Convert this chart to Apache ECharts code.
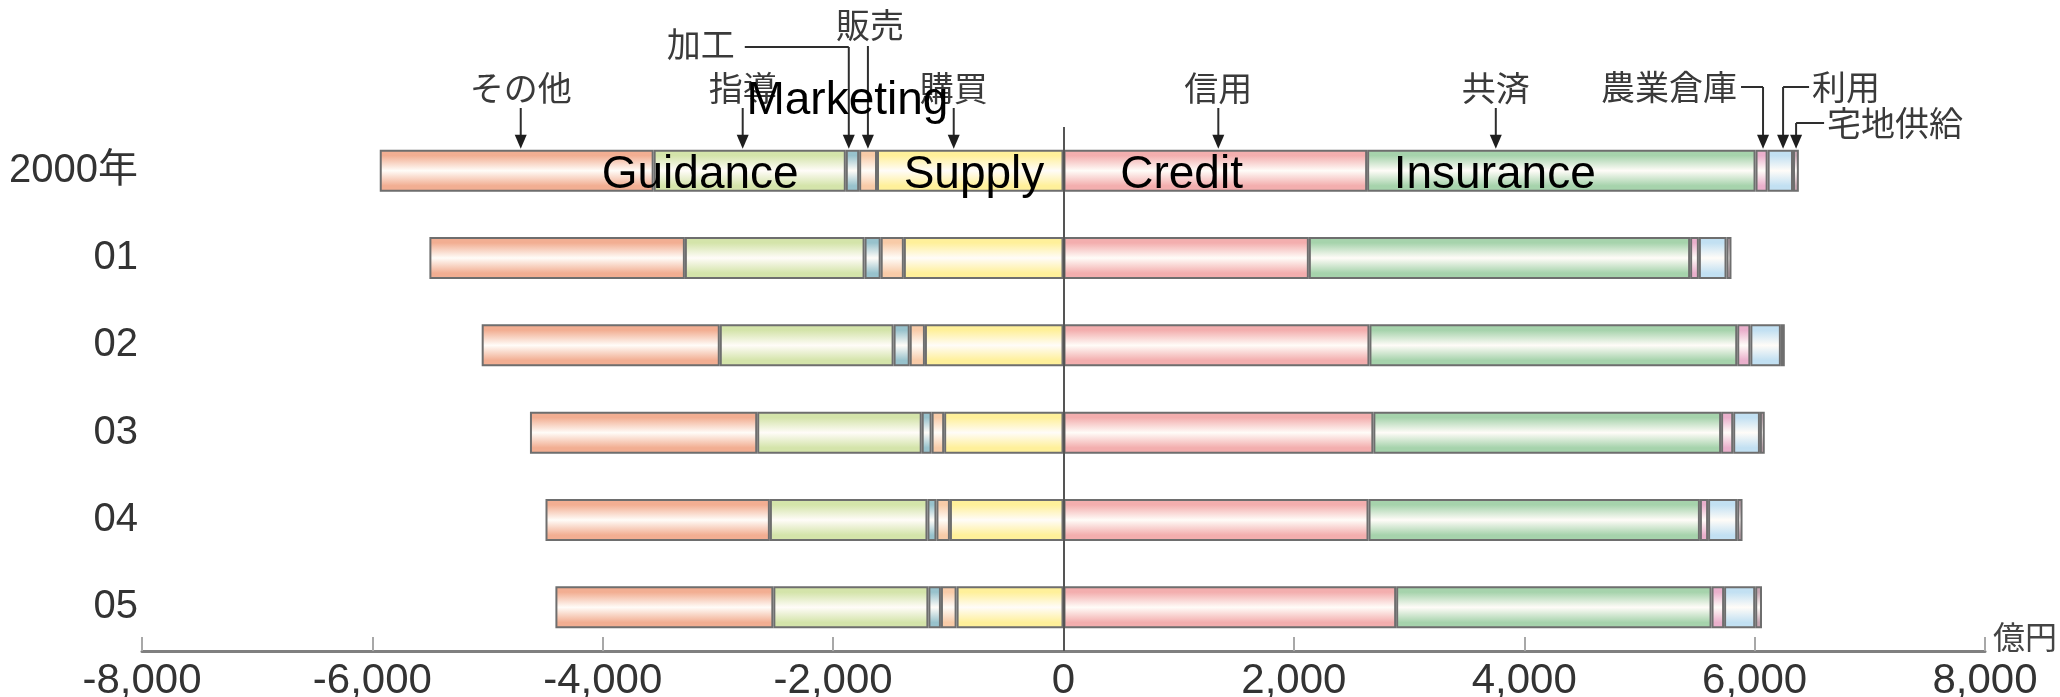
<!DOCTYPE html>
<html><head><meta charset="utf-8">
<script src="https://cdn.jsdelivr.net/npm/echarts@6/dist/echarts.min.js"></script>
<style>html,body{margin:0;padding:0;background:#fff}#c{width:2060px;height:697px}</style>
</head><body><div id="c"></div>
<script>
// ---- data (億円) ----
const years = ['2000年','01','02','03','04','05'];
// left side (drawn outward from 0)
const kobai   = [1619,1386,1203,1036,986,928];    // 購買 Supply
const hanbai  = [155,201,132,109,117,136];        // 販売 Marketing
const kakou   = [116,140,140,86,78,109];          // 加工
const shidou  = [1668,1560,1509,1428,1368,1346];  // 指導 Guidance
const sonota  = [2378,2218,2067,1973,1948,1892];  // その他
// right side
const shinyou = [2636,2130,2656,2690,2648,2888];  // 信用 Credit
const kyousai = [3372,3310,3193,3019,2877,2738];  // 共済 Insurance
const souko   = [105,76,114,105,71,109];          // 農業倉庫
const riyou   = [220,240,265,232,253,270];        // 利用
const takuchi = [51,43,34,42,46,59];              // 宅地供給
const xTicks  = [-8000,-6000,-4000,-2000,0,2000,4000,6000,8000];
const unitLabel = '億円';

const chart = echarts.init(document.getElementById('c'), null, {renderer:'canvas'});

function grad(c){
  return new echarts.graphic.LinearGradient(0,0,0,1,[
    {offset:0,color:c},{offset:0.14,color:c},{offset:0.5,color:'#fffcf8'},
    {offset:0.86,color:c},{offset:1,color:c}]);
}
const neg = a => a.map(v => -v);
const defs = [
  {name:'購買', data:neg(kobai),  color:'#FFF09A'},
  {name:'販売', data:neg(hanbai), color:'#F8CBA8'},
  {name:'加工', data:neg(kakou),  color:'#98C2CC'},
  {name:'指導', data:neg(shidou), color:'#D4E4AA'},
  {name:'その他', data:neg(sonota), color:'#F2AE92'},
  {name:'信用', data:shinyou, color:'#F3AEAE'},
  {name:'共済', data:kyousai, color:'#A6D3AC'},
  {name:'農業倉庫', data:souko, color:'#EAB0CC'},
  {name:'利用', data:riyou, color:'#C2E0F2'},
  {name:'宅地供給', data:takuchi, color:'#C8A8B4'}
];
const series = defs.map((d,i) => ({
  type:'bar', name:d.name, stack:'total', data:d.data, barWidth:42,
  itemStyle:{color:grad(d.color), borderColor:'#6e6e6e', borderWidth:2},
  emphasis:{disabled:true},
  markLine: i===0 ? {silent:true, symbol:'none', label:{show:false},
    lineStyle:{color:'#555', width:2, type:'solid'}, data:[{xAxis:0}]} : undefined
}));

const fmt = v => (v<0?'-':'') + Math.abs(v).toLocaleString('en-US');

chart.setOption({
  backgroundColor:'#fff',
  animation:false,
  grid:{left:142, right:75, top:127, bottom:46, containLabel:false, outerBoundsMode:'none'},
  xAxis:{type:'value', min:xTicks[0], max:xTicks[xTicks.length-1], interval:xTicks[1]-xTicks[0],
    axisLine:{show:true, lineStyle:{color:'#808080', width:3}},
    axisTick:{show:true, inside:true, length:14, lineStyle:{color:'#a8a8a8', width:2}},
    splitLine:{show:false},
    axisLabel:{formatter:fmt, fontSize:42, color:'#333', margin:9, fontFamily:"'Liberation Sans', Arial, sans-serif"},
    name:unitLabel, nameLocation:'end', nameGap:8, nameMoveOverlap:false,
    nameTextStyle:{fontSize:32, color:'#444', verticalAlign:'bottom', align:'left', padding:[0,0,-2,0],
      fontFamily:"'Noto Sans CJK JP', sans-serif"}
  },
  yAxis:{type:'category', data:years, inverse:true,
    axisLine:{show:false, onZero:false}, axisTick:{show:false}, splitLine:{show:false},
    axisLabel:{fontSize:40, color:'#333', margin:4, fontFamily:"'Liberation Sans', 'Noto Sans CJK JP', sans-serif"}
  },
  series
});

// ---- annotations for the 2000 bar ----
const row0 = years[0];
const px = v => chart.convertToPixel({gridIndex:0}, [v, row0]);
const [x0, yc] = px(0);
const tipY = yc - 21 - 1;
const lineCol = '#2e2e2e';
const g = [];
function arrow(x, yStart){
  g.push({type:'line', shape:{x1:x, y1:yStart, x2:x, y2:tipY-12}, style:{stroke:lineCol, lineWidth:2}, silent:true});
  g.push({type:'polygon', shape:{points:[[x-6,tipY-14],[x+6,tipY-14],[x,tipY]]}, style:{fill:'#1e1e1e'}, silent:true});
}
function jtext(t, x, y, align){
  g.push({type:'text', x, y, silent:true, style:{text:t, x:0, y:0, align:align||'center', verticalAlign:'middle',
    fontSize:34, fill:'#3a3a3a', fontFamily:"'Noto Sans CJK JP', sans-serif"}});
}
// straight callouts: [label, value anchor]
const straight = [['その他',-4712],['指導',-2785],['購買',-953],['信用',1344],['共済',3753]];
straight.forEach(([t,v]) => { const x = px(v)[0]; jtext(t, x, 88); arrow(x, 108); });
// 販売: high label, straight down
{ const x = px(-1698)[0]; jtext('販売', x+2, 25); arrow(x, 46); }
// elbow callouts: [label, value anchor, text dx, line dx, y, align]
const elbow = [['加工',-1864,-114,-104,47,'right'],['農業倉庫',6073,-26,-22,87,'right'],
               ['利用',6247,29,26,87,'left'],['宅地供給',6360,31,28,123,'left']];
elbow.forEach(([t,v,tdx,ldx,y,al]) => {
  const x = px(v)[0];
  jtext(t, x+tdx, y - (t==='加工' ? 3 : 0), al);
  g.push({type:'polyline', shape:{points:[[x+ldx,y],[x,y]]}, style:{stroke:lineCol, lineWidth:2, fill:null}, silent:true});
  arrow(x, y);
});
// English overlay labels
const eng = [['Guidance',-3154,yc+5],['Marketing',-1876,101],['Supply',-777,yc+5],['Credit',1025,yc+5],['Insurance',3744,yc+5]];
eng.forEach(([t,v,y]) => {
  g.push({type:'text', x:px(v)[0], y, z:100, silent:true, style:{text:t, x:0, y:0, align:'center', verticalAlign:'middle',
    fontSize:46, fill:'#000', fontFamily:"'Liberation Sans', Arial, sans-serif"}});
});
chart.setOption({graphic:g});
</script></body></html>
